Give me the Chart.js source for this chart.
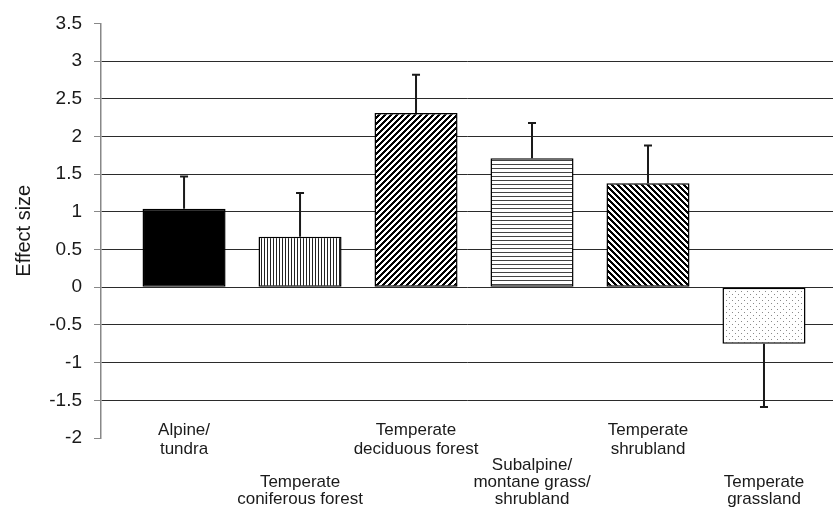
<!DOCTYPE html>
<html>
<head>
<meta charset="utf-8">
<script src="https://cdn.jsdelivr.net/npm/chart.js"></script>
<style>
  html, body { margin: 0; padding: 0; background: #fff; }
  #chart { display: block; }
</style>
</head>
<body>
<canvas id="chart" width="833" height="512"></canvas>
<script>
// Biome categories (lines shown under the axis)
const categories = [
    ['Alpine/', 'tundra'],
    ['Temperate', 'coniferous forest'],
    ['Temperate', 'deciduous forest'],
    ['Subalpine/', 'montane grass/', 'shrubland'],
    ['Temperate', 'shrubland'],
    ['Temperate', 'grassland']
];
// Mean effect size and the end of its error bar
const effectSize = [1.04, 0.67, 2.31, 1.71, 1.38, -0.75];
const errorEnd = [1.47, 1.25, 2.82, 2.18, 1.88, -1.59];
// Y axis ticks
const yMin = -2;
const yMax = 3.5;
const yStep = 0.5;

// Build fill patterns
function makePattern(w, h, draw) {
    const c = document.createElement('canvas');
    c.width = w;
    c.height = h;
    const g = c.getContext('2d');
    g.fillStyle = '#fff';
    g.fillRect(0, 0, w, h);
    draw(g);
    return c.getContext('2d').createPattern(c, 'repeat');
}

const patterns = [
    '#000',
    makePattern(3, 3, g => { g.fillStyle = '#222'; g.fillRect(0, 0, 1, 3); }),
    makePattern(6, 6, g => {
        g.fillStyle = '#000';
        for (let x = 0; x < 6; x++) for (let y = 0; y < 6; y++) if ((x + y) % 6 < 3) g.fillRect(x, y, 1, 1);
    }),
    makePattern(4, 4, g => { g.fillStyle = '#444'; g.fillRect(0, 0, 4, 1); }),
    makePattern(6, 6, g => {
        g.fillStyle = '#000';
        for (let x = 0; x < 6; x++) for (let y = 0; y < 6; y++) if (((x - y) % 6 + 6) % 6 < 3) g.fillRect(x, y, 1, 1);
    }),
    makePattern(6, 6, g => {
        g.fillStyle = '#8a8a8a';
        g.fillRect(0, 0, 1, 1);
        g.fillRect(3, 3, 1, 1);
    })
];

// Lower row labels get blank lines in front so they sit below the upper row
const tickLabels = categories.map((lines, i) => {
    if (i % 2 === 0) return lines;
    const blanks = lines.length === 3 ? 2 : 3;
    return Array(blanks).fill('').concat(lines);
});

// One-sided error bars
const errorBars = {
    id: 'errorBars',
    afterDatasetsDraw(chart) {
        const ctx = chart.ctx;
        const xs = chart.scales.x;
        const ys = chart.scales.y;
        ctx.save();
        ctx.strokeStyle = '#1a1a1a';
        ctx.lineWidth = 2;
        effectSize.forEach((v, i) => {
            const x = xs.getPixelForValue(i);
            const y0 = ys.getPixelForValue(v);
            const y1 = ys.getPixelForValue(errorEnd[i]);
            ctx.beginPath();
            ctx.moveTo(x, y0);
            ctx.lineTo(x, y1);
            ctx.moveTo(x - 4, y1);
            ctx.lineTo(x + 4, y1);
            ctx.stroke();
        });
        ctx.restore();
    }
};

const font = 'Liberation Sans, Arial, sans-serif';

new Chart(document.getElementById('chart'), {
    type: 'bar',
    data: {
        datasets: [{
            data: effectSize.map((v, i) => ({ x: i, y: v })),
            backgroundColor: patterns,
            borderColor: '#000',
            borderWidth: 1.5,
            borderSkipped: false,
            barPercentage: 0.716,
            categoryPercentage: 1
        }]
    },
    options: {
        responsive: false,
        devicePixelRatio: 1,
        animation: false,
        layout: { padding: { top: 20, right: 0, bottom: 0, left: 0 } },
        plugins: {
            legend: { display: false },
            tooltip: { enabled: false }
        },
        scales: {
            x: {
                type: 'linear',
                offset: false,
                min: -0.716,
                max: 5.595,
                afterBuildTicks: scale => {
                    scale.ticks = categories.map((c, i) => ({ value: i }));
                },
                afterFit: scale => { scale.height = 74; },
                grid: { display: false, drawTicks: false },
                border: { display: false },
                ticks: {
                    autoSkip: false,
                    maxRotation: 0,
                    mirror: true,
                    padding: -1.5,
                    color: '#1a1a1a',
                    font: ctx => ({
                        family: font,
                        size: 17,
                        lineHeight: ctx.index % 2 === 0 ? 19 / 17 : 1
                    }),
                    callback: (value) => tickLabels[value]
                }
            },
            y: {
                min: yMin,
                max: yMax,
                afterFit: scale => { scale.width = 101; },
                ticks: {
                    stepSize: yStep,
                    padding: 12,
                    color: '#1a1a1a',
                    font: { family: font, size: 19 },
                    callback: value => String(Math.round(value * 10) / 10)
                },
                grid: {
                    color: ctx => (ctx.tick && (ctx.tick.value === yMin || ctx.tick.value === yMax)) ? 'rgba(0,0,0,0)' : '#2b2b2b',
                    tickColor: '#888',
                    tickLength: 7,
                    lineWidth: 1
                },
                border: { color: '#888', width: 1.5 },
                title: {
                    display: true,
                    text: 'Effect size',
                    color: '#1a1a1a',
                    font: { family: font, size: 20 },
                    padding: { top: 12, bottom: 0 }
                }
            }
        }
    },
    plugins: [errorBars]
});
</script>
</body>
</html>
